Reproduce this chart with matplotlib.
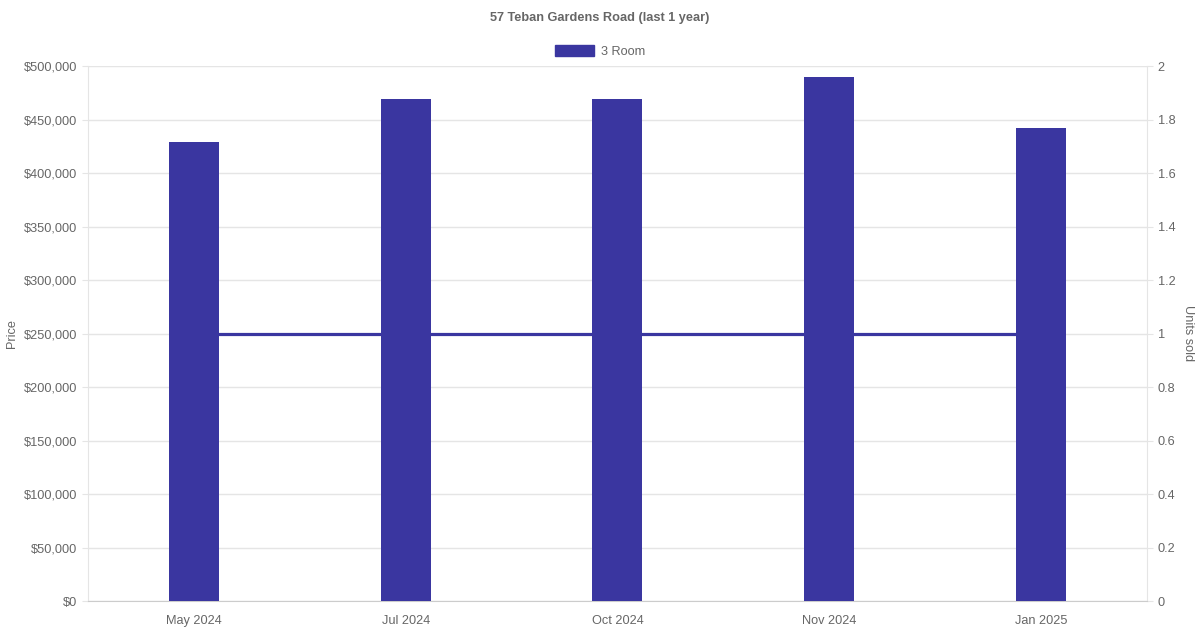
# %%
# libraries
import numpy as np
import matplotlib.pyplot as plt
from matplotlib.ticker import FuncFormatter

# %%
# data
months = ['May 2024', 'Jul 2024', 'Oct 2024', 'Nov 2024', 'Jan 2025']
price = [429000, 469500, 469500, 490000, 442000]
units_sold = [1, 1, 1, 1, 1]

# %%
# styling
plt.rcParams['font.family'] = ['Liberation Sans', 'DejaVu Sans']
text_col = '#666666'
grid_col = '#e5e5e5'
bar_col = '#3a36a0'
fs = 9.2

fig = plt.figure(figsize=(12, 6.3), dpi=100)
ax = fig.add_axes([0.0733, 0.046, 0.8825, 0.8492])
ax2 = ax.twinx()

# bars on top, grid + line underneath (on ax2)
ax.set_zorder(2)
ax.patch.set_visible(False)

x = np.arange(len(months))
ax.bar(x, price, width=0.236, color=bar_col, zorder=3)
ax2.plot(x, units_sold, color=bar_col, lw=2.3, solid_capstyle='butt', zorder=3)

ax.set_xlim(-0.5, len(months) - 0.5)
ax.set_ylim(0, 500000)
ax.set_yticks(np.arange(0, 500001, 50000))
ax.yaxis.set_major_formatter(FuncFormatter(lambda v, p: f'${v:,.0f}'))
ax.set_xticks(x)
ax.set_xticklabels(months)

ax2.set_ylim(0, 2)
ax2.set_yticks(np.arange(0, 2.01, 0.2))
ax2.yaxis.set_major_formatter(FuncFormatter(lambda v, p: f'{v:.1f}'.rstrip('0').rstrip('.')))

ax2.grid(axis='y', color=grid_col, lw=1, zorder=0)
ax2.set_axisbelow(True)

for a in (ax, ax2):
    for s in a.spines.values():
        s.set_visible(False)
    a.tick_params(colors=grid_col, labelcolor=text_col, labelsize=fs, length=4.3, width=0.8)
ax.spines['left'].set_visible(True)
ax.spines['left'].set_color(grid_col)
ax.spines['bottom'].set_visible(True)
ax.spines['bottom'].set_color('#cccccc')
ax2.spines['right'].set_visible(True)
ax2.spines['right'].set_color(grid_col)
ax.tick_params(axis='x', length=0, pad=10)
ax.tick_params(axis='y', pad=3.4)
ax2.tick_params(axis='y', pad=3.4)

ax.set_ylabel('Price', color=text_col, fontsize=fs, labelpad=4)
ax2.set_ylabel('Units sold', color=text_col, fontsize=fs, rotation=270, labelpad=13.5)

fig.text(0.5, 0.972, '57 Teban Gardens Road (last 1 year)', ha='center', va='center',
         color=text_col, fontsize=fs, fontweight='bold')

# legend
leg = ax.legend([plt.Rectangle((0, 0), 1, 1, color=bar_col)], ['3 Room'],
                loc='center', bbox_to_anchor=(0.5, 0.918), bbox_transform=fig.transFigure,
                frameon=False, handlelength=3.1, handleheight=0.9, handletextpad=0.5,
                fontsize=fs, labelcolor=text_col)

fig.savefig('out.png', dpi=100)
